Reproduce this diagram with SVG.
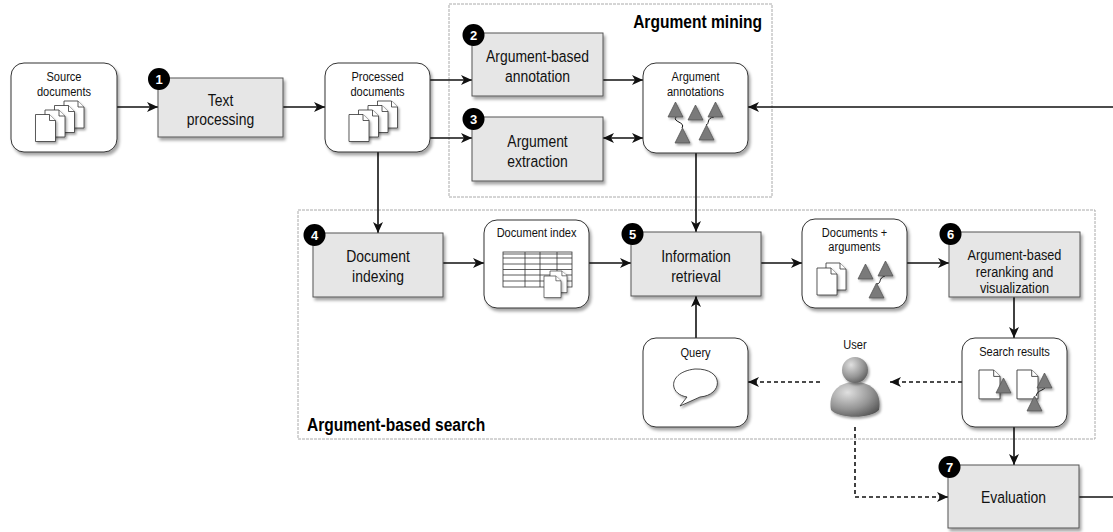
<svg xmlns="http://www.w3.org/2000/svg" width="1113" height="532" viewBox="0 0 1113 532">
<style>
.big,.sm,.title{font-family:"Liberation Sans",Arial,sans-serif;transform-box:fill-box;transform:scaleX(0.82)}
.big{font-size:17px;fill:#111;text-anchor:middle;transform-origin:center}
.b3{font-size:15.5px}
.sm{font-size:13.5px;fill:#111;text-anchor:middle;transform-origin:center}
.title{font-size:19px;font-weight:bold;fill:#000}
.tl{transform-origin:left center}
.tr{transform-origin:right center}
.badge{font-family:"Liberation Sans",Arial,sans-serif;font-size:13px;font-weight:bold;fill:#fff;text-anchor:middle}
.proc{fill:#e6e6e6;stroke:#555;stroke-width:1;filter:url(#sh)}
.store{fill:#fff;stroke:#333;stroke-width:1;filter:url(#sh)}
.grp{fill:none;stroke:#aaa;stroke-width:1;stroke-dasharray:3,1}
.ln{fill:none;stroke:#111;stroke-width:1.6}
.ar{marker-end:url(#arr)}
.dash{stroke-dasharray:4,3}
.page{fill:#fff;stroke:#333;stroke-width:0.8}
.tri{fill:#7a7a7a;stroke:#555;stroke-width:0.8}
.wave{fill:none;stroke:#111;stroke-width:1}
</style>
<defs>
<filter id="sh" x="-20%" y="-20%" width="150%" height="150%">
<feDropShadow dx="2" dy="3" stdDeviation="1.5" flood-color="#000" flood-opacity="0.35"/>
</filter>
<filter id="sh2" x="-30%" y="-30%" width="180%" height="180%">
<feDropShadow dx="1.5" dy="2" stdDeviation="1" flood-color="#000" flood-opacity="0.35"/>
</filter>
<marker id="arr" markerUnits="userSpaceOnUse" markerWidth="12" markerHeight="10" refX="11" refY="5" orient="auto-start-reverse">
<path d="M0,0 L11,5 L0,10 L3,5 Z" fill="#111"/>
</marker>
<g id="pg" filter="url(#sh2)">
<path class="page" d="M0,0 H14 L20,6 V27 H0 Z"/>
<path class="page" d="M14,0 V6 H20" fill="none"/>
</g>
<path id="tr" class="tri" d="M7.5,0 L15,15 L0,15 Z" filter="url(#sh2)"/>
<radialGradient id="ug" cx="0.35" cy="0.3" r="0.8">
<stop offset="0" stop-color="#e0e0e0"/>
<stop offset="0.6" stop-color="#959595"/>
<stop offset="1" stop-color="#555"/>
</radialGradient>
</defs>
<rect width="1113" height="532" fill="#fff"/>

<g id="group-mining">
<rect class="grp" x="449" y="4" width="323" height="193"/>
<text class="title tr" x="762" y="28" text-anchor="end">Argument mining</text>
</g>
<g id="group-search">
<rect class="grp" x="298" y="210" width="797" height="229"/>
<text class="title tl" x="307" y="431">Argument-based search</text>
</g>

<g id="connectors">
<path class="ln ar" d="M117,107 H158"/>
<path class="ln ar" d="M283,107 H325"/>
<path class="ln ar" d="M430,80 H472"/>
<path class="ln ar" d="M430,138 H472"/>
<path class="ln ar" d="M603,80 H643"/>
<path class="ln ar" d="M603,138 H643" marker-start="url(#arr)"/>
<path class="ln ar" d="M1113,107 H748"/>
<path class="ln ar" d="M378,152 V233"/>
<path class="ln ar" d="M696,153 V232"/>
<path class="ln ar" d="M443,263 H484"/>
<path class="ln ar" d="M589,263 H631"/>
<path class="ln ar" d="M761,263 H802"/>
<path class="ln ar" d="M907,263 H949"/>
<path class="ln ar" d="M1014,297 V338"/>
<path class="ln ar" d="M696,338 V296"/>
<path class="ln ar dash" d="M962,382 H890"/>
<path class="ln ar dash" d="M820,382 H748"/>
<path class="ln ar" d="M1014,427 V465"/>
<path class="ln ar dash" d="M855,427 V497 H948"/>
<path class="ln" d="M1079,497 H1113"/>
</g>

<g id="source-documents">
<rect class="store" x="11" y="63" width="106" height="89" rx="13"/>
<text class="sm" x="64" y="81">Source</text>
<text class="sm" x="64" y="96">documents</text>
<use href="#pg" x="64" y="101"/>
<use href="#pg" x="54.5" y="105.5"/>
<use href="#pg" x="45" y="110"/>
<use href="#pg" x="35.5" y="114.5"/>
</g>

<g id="text-processing">
<rect class="proc" x="158" y="78" width="125" height="59"/>
<text class="big" x="220.5" y="106">Text</text>
<text class="big" x="220.5" y="125">processing</text>
<circle cx="159" cy="79" r="11" fill="#000"/>
<text class="badge" x="159" y="83.5">1</text>
</g>

<g id="processed-documents">
<rect class="store" x="325" y="63" width="105" height="89" rx="13"/>
<text class="sm" x="377.5" y="81">Processed</text>
<text class="sm" x="377.5" y="96">documents</text>
<use href="#pg" x="377.5" y="101"/>
<use href="#pg" x="368" y="105.5"/>
<use href="#pg" x="358.5" y="110"/>
<use href="#pg" x="349" y="114.5"/>
</g>

<g id="argument-annotation">
<rect class="proc" x="472" y="33" width="131" height="63"/>
<text class="big" x="537.5" y="62">Argument-based</text>
<text class="big" x="537.5" y="82">annotation</text>
<circle cx="473.5" cy="35" r="11" fill="#000"/>
<text class="badge" x="473.5" y="39.5">2</text>
</g>

<g id="argument-extraction">
<rect class="proc" x="472" y="117" width="131" height="64"/>
<text class="big" x="537.5" y="147">Argument</text>
<text class="big" x="537.5" y="167">extraction</text>
<circle cx="473.5" cy="119" r="11" fill="#000"/>
<text class="badge" x="473.5" y="123.5">3</text>
</g>

<g id="argument-annotations">
<rect class="store" x="643" y="63" width="105" height="90" rx="13"/>
<text class="sm" x="695.5" y="81">Argument</text>
<text class="sm" x="695.5" y="96">annotations</text>
<path class="wave" d="M676,117 C672,122 686,122 682,128"/>
<path class="wave" d="M714,117 C706,118 710,124 706,125"/>
<use href="#tr" x="668" y="102"/>
<use href="#tr" x="688" y="105"/>
<use href="#tr" x="708" y="102"/>
<use href="#tr" x="675" y="128"/>
<use href="#tr" x="699" y="125"/>
</g>

<g id="document-indexing">
<rect class="proc" x="313" y="233" width="130" height="64"/>
<text class="big" x="378" y="262">Document</text>
<text class="big" x="378" y="282">indexing</text>
<circle cx="314.5" cy="235" r="11" fill="#000"/>
<text class="badge" x="314.5" y="239.5">4</text>
</g>

<g id="document-index">
<rect class="store" x="484" y="220" width="105" height="88" rx="13"/>
<text class="sm" x="536.5" y="237">Document index</text>
<g fill="none" stroke="#333" stroke-width="0.8">
<rect x="503" y="252" width="69" height="35" fill="#fff"/>
<path d="M503,254 H572 M503,258 H572 M503,264 H572 M503,269.5 H572 M503,275 H572 M503,281 H572 M525,252 V287 M540,252 V287 M557,252 V287"/>
</g>
<use href="#pg" transform="translate(550,271) scale(0.85,0.8)"/>
<use href="#pg" transform="translate(544,276) scale(0.85,0.8)"/>
</g>

<g id="information-retrieval">
<rect class="proc" x="631" y="232" width="130" height="64"/>
<text class="big" x="696" y="262">Information</text>
<text class="big" x="696" y="282">retrieval</text>
<circle cx="632.5" cy="234" r="11" fill="#000"/>
<text class="badge" x="632.5" y="238.5">5</text>
</g>

<g id="documents-arguments">
<rect class="store" x="802" y="219" width="105" height="89" rx="13"/>
<text class="sm" x="854.5" y="237">Documents +</text>
<text class="sm" x="854.5" y="251">arguments</text>
<use href="#pg" x="826" y="263"/>
<use href="#pg" x="817" y="268"/>
<path class="wave" d="M885,276 C878,278 882,283 877,284"/>
<use href="#tr" x="858" y="264"/>
<use href="#tr" x="878" y="261"/>
<use href="#tr" x="869" y="283"/>
</g>

<g id="argument-reranking">
<rect class="proc" x="949" y="232" width="131" height="65"/>
<text class="big b3" x="1014.5" y="260.5">Argument-based</text>
<text class="big b3" x="1014.5" y="277">reranking and</text>
<text class="big b3" x="1014.5" y="293.5">visualization</text>
<circle cx="950.5" cy="234" r="11" fill="#000"/>
<text class="badge" x="950.5" y="238.5">6</text>
</g>

<g id="search-results">
<rect class="store" x="962" y="338" width="105" height="89" rx="13"/>
<text class="sm" x="1014.5" y="356">Search results</text>
<use href="#pg" transform="translate(979,370) scale(1.05,1.07)"/>
<use href="#tr" x="996" y="378"/>
<use href="#pg" transform="translate(1017,370) scale(1.05,1.07)"/>
<path class="wave" d="M1045,388 C1040,392 1038,390 1036,396"/>
<use href="#tr" x="1037" y="373"/>
<use href="#tr" x="1027" y="396"/>
</g>

<g id="query">
<rect class="store" x="643" y="338" width="105" height="89" rx="13"/>
<text class="sm" x="695.5" y="357">Query</text>
<path d="M687,397 C668,394 668,372 695,369 C724,368 724,395 700,397 L680,406 Z" fill="#fff" stroke="#333" stroke-width="0.9" filter="url(#sh2)"/>
</g>

<g id="user">
<text class="sm" x="855" y="349">User</text>
<path d="M831,410 C828,394 837,382 855,382 C873,382 882,394 879,410 C871,419 839,419 831,410 Z" fill="url(#ug)" filter="url(#sh2)"/>
<circle cx="855" cy="370" r="13" fill="url(#ug)" filter="url(#sh2)"/>
</g>

<g id="evaluation">
<rect class="proc" x="948" y="465" width="131" height="63"/>
<text class="big" x="1013.5" y="503">Evaluation</text>
<circle cx="949.5" cy="467" r="11" fill="#000"/>
<text class="badge" x="949.5" y="471.5">7</text>
</g>
</svg>
